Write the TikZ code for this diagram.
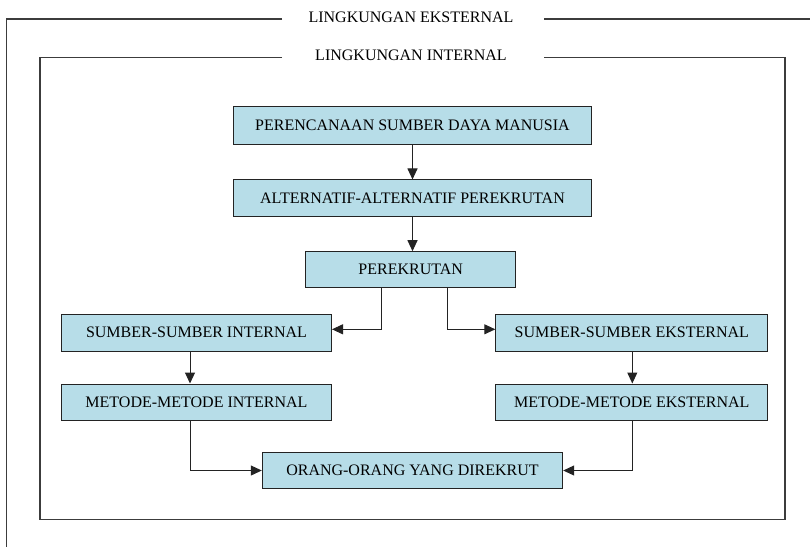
\documentclass[tikz,border=0pt]{standalone}
\usepackage{fontspec}
\setmainfont{Liberation Serif}
\usetikzlibrary{arrows.meta}
\definecolor{boxfill}{RGB}{183,221,232}
\definecolor{frameline}{RGB}{60,60,60}
\definecolor{boxline}{RGB}{35,35,35}
\begin{document}
\begin{tikzpicture}[x=1pt,y=-1pt,
  txt/.style={font=\fontsize{16}{18}\selectfont},
  stepbox/.style={txt, draw=boxline, line width=1pt, fill=boxfill, inner sep=0pt, anchor=center},
  link/.style={draw=boxline, line width=1pt, -{Triangle[length=11pt,width=10pt]}},
  frame/.style={draw=frameline, line width=1.2pt},
  title/.style={txt, inner sep=0pt}]
\useasboundingbox (0,0) rectangle (810,547);

% outer environment frame
\node[title] (ext) at (411,17.3) {LINGKUNGAN EKSTERNAL};
\coordinate (extL) at (282,19);
\coordinate (extR) at (544,19);
\draw[frame] (extL) -| (6.5,547);
\draw[frame] (extR) -- (810,19);

% inner environment frame
\node[title] (int) at (411,55) {LINGKUNGAN INTERNAL};
\coordinate (intL) at (282,57.3);
\coordinate (intR) at (544,57.3);
\draw[frame] (intL) -| (40,519.7) -| (785,57.3) -- (intR);

% process boxes
\node[stepbox, minimum width=358pt, minimum height=37.6pt] (b1) at (412.5,125.5) {PERENCANAAN SUMBER DAYA MANUSIA};
\node[stepbox, minimum width=358pt, minimum height=36.7pt] (b2) at (412.5,198.3) {ALTERNATIF-ALTERNATIF PEREKRUTAN};
\node[stepbox, minimum width=210pt, minimum height=36pt] (b3) at (410.7,269.7) {PEREKRUTAN};
\node[stepbox, minimum width=270pt, minimum height=36.7pt] (b4) at (196.5,332.7) {SUMBER-SUMBER INTERNAL};
\node[stepbox, minimum width=272pt, minimum height=36.7pt] (b5) at (631.8,332.7) {SUMBER-SUMBER EKSTERNAL};
\node[stepbox, minimum width=270pt, minimum height=36pt] (b6) at (196.5,402) {METODE-METODE INTERNAL};
\node[stepbox, minimum width=272pt, minimum height=36pt] (b7) at (631.8,402) {METODE-METODE EKSTERNAL};
\node[stepbox, minimum width=300.4pt, minimum height=35.6pt] (b8) at (412.5,470.5) {ORANG-ORANG YANG DIREKRUT};

% connectors
\draw[link] (b1.south) -- (b2.north);
\draw[link] (b2.south) -- (b2.south |- b3.north);
\draw[link] ([xshift=-29pt]b3.south) |- ([yshift=3.4pt]b4.east);
\draw[link] ([xshift=36.6pt]b3.south) |- ([yshift=3.4pt]b5.west);
\draw[link] ([xshift=-6.5pt]b4.south) -- ([xshift=-6.5pt]b6.north);
\draw[link] ([xshift=0.5pt]b5.south) -- ([xshift=0.5pt]b7.north);
\draw[link] ([xshift=-6.5pt]b6.south) |- (b8.west);
\draw[link] ([xshift=0.5pt]b7.south) |- (b8.east);
\end{tikzpicture}
\end{document}
